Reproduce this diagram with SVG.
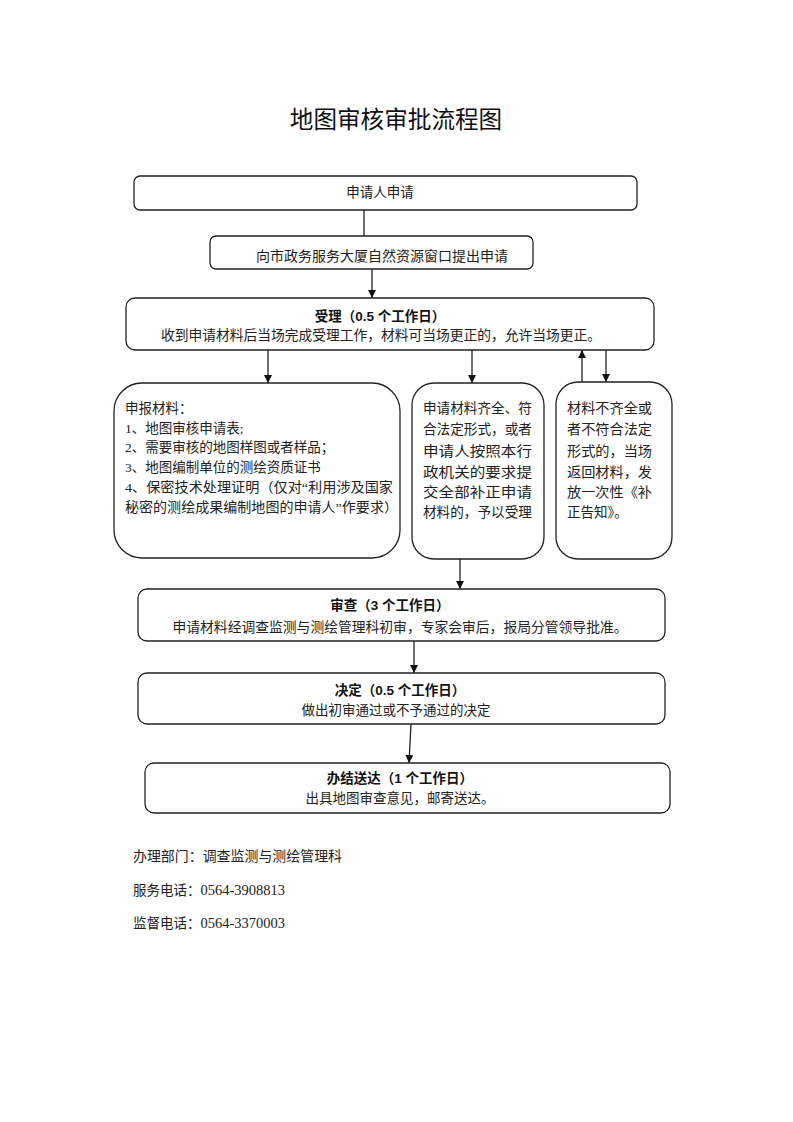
<svg xmlns="http://www.w3.org/2000/svg" width="793" height="1122" viewBox="0 0 793 1122">
<style>
.box{fill:#fff;stroke:#222;stroke-width:1.3}
.t{font-family:"Liberation Serif","Noto Sans CJK SC",serif;font-size:13.5px;fill:#222;dominant-baseline:central}
.b{font-family:"Liberation Sans","Noto Sans CJK SC",sans-serif;font-size:13.5px;font-weight:bold;fill:#111;dominant-baseline:central}
.c{text-anchor:middle}
.ln{stroke:#222;stroke-width:1.3;fill:none}
.title{font-family:"Noto Sans CJK SC",sans-serif;font-size:23.6px;fill:#111;text-anchor:middle;dominant-baseline:central}
.num{font-size:14.5px}
</style>
<defs>
<marker id="ah" markerUnits="userSpaceOnUse" markerWidth="9" markerHeight="9" refX="8" refY="4" orient="auto">
<path d="M0,0 L8,4 L0,8 z" fill="#111"/>
</marker>
</defs>
<rect width="793" height="1122" fill="#fff"/>
<text class="title" x="396" y="118">地图审核审批流程图</text>

<g id="connectors">
<line class="ln" x1="364" y1="210" x2="364" y2="236"/>
<line class="ln" x1="372" y1="269" x2="372" y2="298" marker-end="url(#ah)"/>
<line class="ln" x1="268" y1="350" x2="268" y2="383" marker-end="url(#ah)"/>
<line class="ln" x1="472" y1="350" x2="472" y2="383" marker-end="url(#ah)"/>
<line class="ln" x1="582" y1="382" x2="582" y2="350" marker-end="url(#ah)"/>
<line class="ln" x1="606" y1="350" x2="606" y2="382" marker-end="url(#ah)"/>
<line class="ln" x1="460" y1="559" x2="460" y2="589" marker-end="url(#ah)"/>
<line class="ln" x1="414" y1="641" x2="414" y2="673" marker-end="url(#ah)"/>
<line class="ln" x1="411" y1="724" x2="409" y2="763" marker-end="url(#ah)"/>
</g>

<g id="n1">
<rect class="box" x="134" y="176" width="503" height="34" rx="6"/>
<text class="t c" x="380" y="192">申请人申请</text>
</g>
<g id="n2">
<rect class="box" x="210" y="236" width="323" height="33" rx="6"/>
<text class="t c" x="382" y="256" textLength="252" lengthAdjust="spacingAndGlyphs">向市政务服务大厦自然资源窗口提出申请</text>
</g>
<g id="n3">
<rect class="box" x="126" y="298" width="528" height="52" rx="9"/>
<text class="b c" x="380" y="316">受理（0.5 个工作日）</text>
<text class="t c" x="381" y="335" textLength="440" lengthAdjust="spacingAndGlyphs">收到申请材料后当场完成受理工作，材料可当场更正的，允许当场更正。</text>
</g>
<g id="n4">
<rect class="box" x="114" y="383" width="286" height="175" rx="28"/>
<text class="t" x="125" y="408">申报材料：</text>
<text class="t" x="125" y="428">1、地图审核申请表;</text>
<text class="t" x="125" y="447">2、需要审核的地图样图或者样品；</text>
<text class="t" x="125" y="467">3、地图编制单位的测绘资质证书</text>
<text class="t" x="125" y="487" textLength="268" lengthAdjust="spacingAndGlyphs">4、保密技术处理证明（仅对“利用涉及国家</text>
<text class="t" x="125" y="507" textLength="273" lengthAdjust="spacingAndGlyphs">秘密的测绘成果编制地图的申请人”作要求）</text>
</g>
<g id="n5">
<rect class="box" x="412" y="383" width="132" height="176" rx="22"/>
<text class="t" x="423" y="408" textLength="109" lengthAdjust="spacingAndGlyphs">申请材料齐全、符</text>
<text class="t" x="423" y="429" textLength="109" lengthAdjust="spacingAndGlyphs">合法定形式，或者</text>
<text class="t" x="423" y="451" textLength="109" lengthAdjust="spacingAndGlyphs">申请人按照本行</text>
<text class="t" x="423" y="472" textLength="109" lengthAdjust="spacingAndGlyphs">政机关的要求提</text>
<text class="t" x="423" y="492" textLength="109" lengthAdjust="spacingAndGlyphs">交全部补正申请</text>
<text class="t" x="423" y="512" textLength="109" lengthAdjust="spacingAndGlyphs">材料的，予以受理</text>
</g>
<g id="n6">
<rect class="box" x="556" y="382" width="116" height="177" rx="22"/>
<text class="t" x="567" y="408" textLength="85" lengthAdjust="spacingAndGlyphs">材料不齐全或</text>
<text class="t" x="567" y="429" textLength="85" lengthAdjust="spacingAndGlyphs">者不符合法定</text>
<text class="t" x="567" y="451" textLength="85" lengthAdjust="spacingAndGlyphs">形式的，当场</text>
<text class="t" x="567" y="472" textLength="85" lengthAdjust="spacingAndGlyphs">返回材料，发</text>
<text class="t" x="567" y="492" textLength="85" lengthAdjust="spacingAndGlyphs">放一次性《补</text>
<text class="t" x="567" y="512">正告知》。</text>
</g>
<g id="n7">
<rect class="box" x="138" y="589" width="527" height="52" rx="9"/>
<text class="b c" x="390" y="605">审查（3 个工作日）</text>
<text class="t c" x="400" y="627" textLength="455" lengthAdjust="spacingAndGlyphs">申请材料经调查监测与测绘管理科初审，专家会审后，报局分管领导批准。</text>
</g>
<g id="n8">
<rect class="box" x="138" y="673" width="527" height="51" rx="9"/>
<text class="b c" x="400" y="690">决定（0.5 个工作日）</text>
<text class="t c" x="396" y="710">做出初审通过或不予通过的决定</text>
</g>
<g id="n9">
<rect class="box" x="145" y="763" width="525" height="50" rx="9"/>
<text class="b c" x="400" y="778">办结送达（1 个工作日）</text>
<text class="t c" x="400" y="798">出具地图审查意见，邮寄送达。</text>
</g>

<text class="t" x="133" y="856" textLength="209" lengthAdjust="spacingAndGlyphs">办理部门：调查监测与测绘管理科</text>
<text class="t" x="133" y="890">服务电话：<tspan class="num">0564-3908813</tspan></text>
<text class="t" x="133" y="923">监督电话：<tspan class="num">0564-3370003</tspan></text>
</svg>
